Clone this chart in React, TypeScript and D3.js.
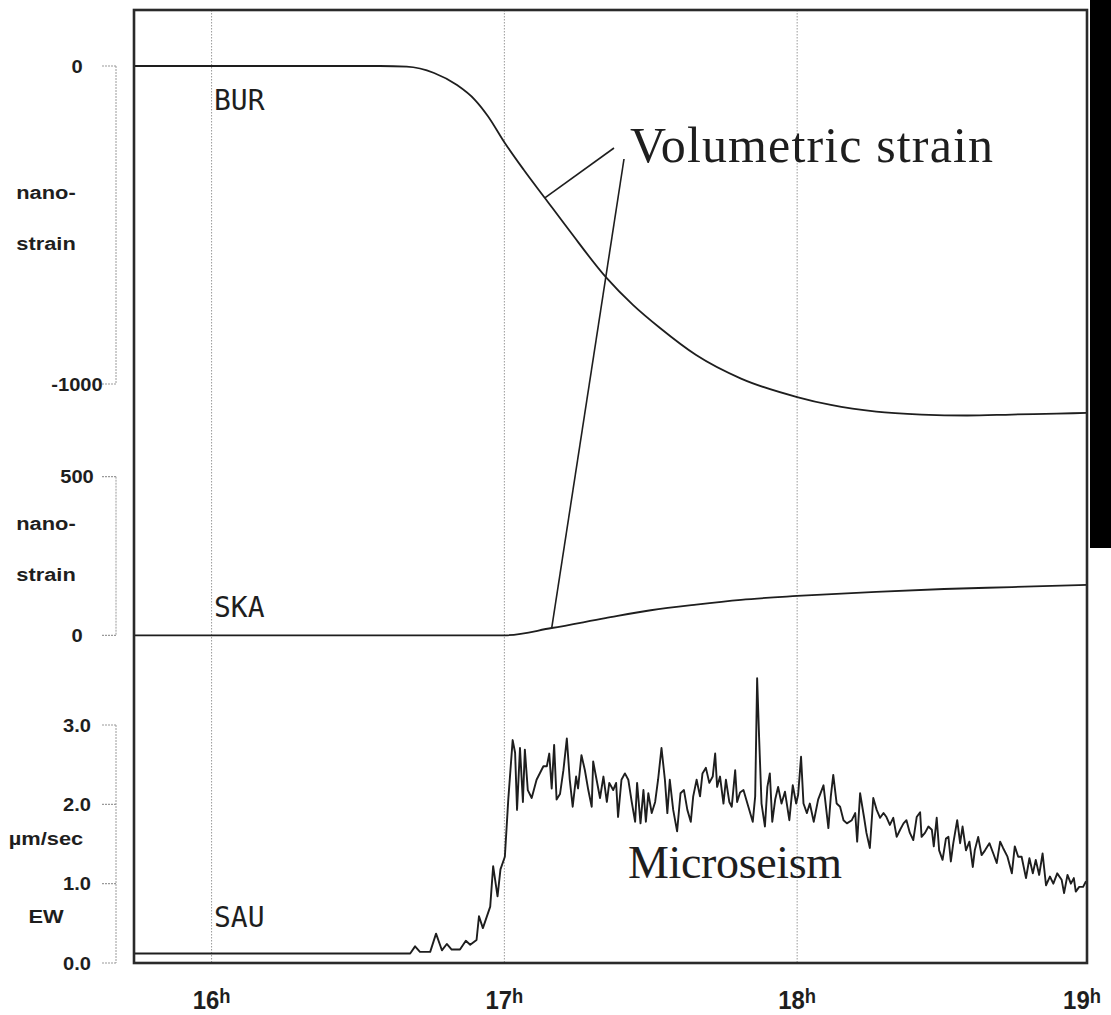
import React from 'react';
import * as d3 from 'd3';

// time in minutes after 16:00
const hourTicks = [0, 60, 120, 180];
const hourLabels = ['16', '17', '18', '19'];

const burTime = [-15.9, 34.5, 40.0, 45.6, 50.3, 54.0, 56.6, 60.1, 64.0, 68.3, 73.4, 80.8, 86.4, 91.9, 99.3, 108.5, 120.0, 126.9, 136.2, 145.5, 154.8, 164.0, 173.2, 179.4];
const burStrain = [0, 0, -2, -22, -60, -107, -157, -242, -327, -415, -519, -664, -752, -824, -909, -983, -1041, -1066, -1087, -1096, -1099, -1096, -1093, -1091];

const skaTime = [-15.9, 60.1, 69.7, 80.7, 90.0, 99.3, 108.5, 120.0, 136.2, 150.1, 164.0, 179.4];
const skaStrain = [0, 0, 23, 54, 79, 97, 112, 124, 137, 146, 152, 159];

const sauSeries: [number, number][] = [
  [-15.8, 0.12], [0, 0.12], [20, 0.12], [40.7, 0.12], [41.7, 0.21], [42.7, 0.14], [44.8, 0.14], [46.0, 0.37], [47.2, 0.16], [48.2, 0.24],
  [49.2, 0.17], [50.9, 0.17], [52.1, 0.28], [53.0, 0.23], [54.3, 0.29], [54.8, 0.59], [55.6, 0.44], [57.1, 0.71], [57.7, 1.22], [58.6, 0.84],
  [59.2, 1.18], [60.1, 1.34], [60.8, 2.06], [61.7, 2.81], [62.2, 2.65], [62.6, 1.93], [63.2, 2.71], [63.8, 2.03], [64.2, 2.69], [64.8, 2.18],
  [65.6, 2.08], [66.6, 2.31], [68.0, 2.48], [68.7, 2.48], [69.2, 2.64], [69.7, 2.2], [70.2, 2.75], [70.7, 2.06], [71.4, 2.13], [72.1, 2.43],
  [72.8, 2.83], [73.4, 2.31], [74.0, 1.97], [74.7, 2.35], [75.1, 2.2], [75.8, 2.62], [76.5, 2.43], [77.2, 2.18], [77.9, 1.97], [78.2, 2.54],
  [78.9, 2.31], [79.6, 2.08], [80.3, 2.35], [81.0, 2.03], [81.5, 2.27], [82.3, 2.18], [82.9, 2.27], [83.3, 1.84], [84.0, 2.31], [84.7, 2.39],
  [85.4, 2.31], [86.1, 2.03], [86.8, 1.78], [87.2, 2.27], [87.9, 1.76], [88.5, 2.18], [89.0, 1.78], [89.5, 2.14], [90.2, 1.89], [90.9, 2.03],
  [91.5, 2.31], [92.2, 2.71], [92.9, 2.31], [93.4, 1.89], [93.9, 2.31], [94.6, 1.93], [95.4, 1.66], [96.1, 2.14], [96.8, 2.18], [97.5, 1.93],
  [98.2, 1.78], [98.7, 2.1], [99.4, 2.31], [100.1, 2.1], [100.6, 2.39], [101.3, 2.46], [102.0, 2.27], [102.7, 2.35], [103.2, 2.64], [103.6, 2.22],
  [104.2, 2.35], [104.9, 2.01], [105.4, 2.31], [106.1, 2.03], [106.6, 1.97], [107.3, 2.43], [107.7, 2.03], [108.3, 2.15], [109.0, 2.18], [110.0, 1.97],
  [110.9, 1.78], [111.4, 2.1], [111.8, 3.59], [112.2, 2.85], [112.7, 2.01], [113.4, 1.72], [113.9, 2.22], [114.4, 2.39], [114.9, 1.78], [115.5, 2.06],
  [116.1, 2.22], [116.8, 2.01], [117.5, 2.16], [118.4, 1.8], [119.1, 2.24], [119.8, 2.01], [120.2, 2.12], [120.8, 2.6], [121.3, 2.01], [122.0, 1.89],
  [122.6, 2.01], [123.4, 1.78], [124.3, 2.06], [125.4, 2.24], [125.9, 1.97], [126.4, 1.7], [126.9, 2.1], [127.4, 2.37], [128.1, 2.01], [128.8, 1.97],
  [129.5, 1.8], [130.2, 1.76], [131.2, 1.8], [131.9, 1.89], [132.3, 1.53], [132.9, 2.14], [133.7, 1.84], [134.2, 1.64], [134.9, 1.45], [135.6, 2.08],
  [136.3, 1.93], [137.0, 1.83], [137.7, 1.89], [138.3, 1.84], [139.0, 1.74], [139.7, 1.83], [140.4, 1.59], [141.1, 1.68], [141.8, 1.76], [142.4, 1.8],
  [143.1, 1.64], [143.8, 1.55], [144.5, 1.84], [145.2, 1.9], [145.5, 1.59], [146.2, 1.64], [146.9, 1.72], [147.6, 1.68], [148.0, 1.47], [148.6, 1.83],
  [149.1, 1.42], [149.8, 1.3], [150.5, 1.57], [151.0, 1.59], [151.5, 1.28], [152.0, 1.51], [152.8, 1.8], [153.4, 1.51], [153.9, 1.72], [154.6, 1.42],
  [155.3, 1.53], [156.0, 1.21], [156.4, 1.42], [157.1, 1.59], [157.8, 1.36], [158.5, 1.42], [159.4, 1.51], [160.2, 1.38], [160.9, 1.26], [161.6, 1.53],
  [162.2, 1.45], [163.1, 1.34], [164.0, 1.13], [164.6, 1.47], [165.3, 1.34], [166.0, 1.34], [166.9, 1.07], [167.6, 1.32], [168.3, 1.13], [168.9, 1.3],
  [169.6, 1.11], [170.3, 1.38], [171.0, 0.98], [171.8, 1.09], [172.5, 1.0], [173.3, 1.13], [174.2, 1.05], [174.7, 0.88], [175.4, 1.11], [176.1, 1.0],
  [176.7, 1.07], [177.1, 0.9], [177.8, 0.96], [178.6, 0.96], [179.2, 1.03],
];

const burTicks = [0, -1000];
const skaTicks = [500, 0];
const sauTicks = [3, 2, 1, 0];

const stationNames = ['BUR', 'SKA', 'SAU'];

const W = 1111;
const H = 1015;
const L = 134, R = 1087, T = 10, B = 963;

const sx = d3.scaleLinear().domain([-15.9, 179.4]).range([L, R]);
const yBur = d3.scaleLinear().domain([-1000, 0]).range([384, 66]);
const ySka = d3.scaleLinear().domain([0, 500]).range([635.3, 476.7]);
const ySau = d3.scaleLinear().domain([0, 3]).range([963, 725]);

const INK = '#1e1e1e';
const GRID = '#9a9a9a';
const sans = 'Liberation Sans, Arial, sans-serif';

function Bracket({ scale, ticks, fmt }: { scale: d3.ScaleLinear<number, number>; ticks: number[]; fmt: (v: number) => string }) {
  const ys = ticks.map((t) => scale(t));
  const y0 = Math.min(...ys), y1 = Math.max(...ys);
  return (
    <g>
      <line x1={116} x2={116} y1={y0} y2={y1} stroke={GRID} strokeWidth={1} strokeDasharray="2,1" />
      {ticks.map((t) => (
        <g key={t}>
          <line x1={102} x2={116} y1={scale(t)} y2={scale(t)} stroke={GRID} strokeWidth={1.2} strokeDasharray="2,1" />
          <text
            transform={`translate(77,${scale(t) + 6.5}) scale(1.15,1)`}
            textAnchor="middle"
            fontFamily={sans}
            fontWeight="bold"
            fontSize={17.5}
            fill={INK}
          >
            {fmt(t)}
          </text>
        </g>
      ))}
    </g>
  );
}

function UnitLabel({ y, text }: { y: number; text: string }) {
  return (
    <text transform={`translate(46,${y}) scale(1.15,1)`} textAnchor="middle" fontFamily={sans} fontWeight="bold" fontSize={19} fill={INK}>
      {text}
    </text>
  );
}

export default function App() {
  const burLine = d3
    .line<number>()
    .x((_, i) => sx(burTime[i]))
    .y((d) => yBur(d))
    .curve(d3.curveMonotoneX)(burStrain) as string;
  const skaLine = d3
    .line<number>()
    .x((_, i) => sx(skaTime[i]))
    .y((d) => ySka(d))
    .curve(d3.curveMonotoneX)(skaStrain) as string;
  const sauLine = d3
    .line<[number, number]>()
    .x((d) => sx(d[0]))
    .y((d) => ySau(d[1]))(sauSeries) as string;

  const volLabel = { x: 630, y: 162 };
  const lead1 = { x: sx(68.3), y: yBur(-415) };
  const lead2 = { x: sx(69.7), y: ySka(23) };

  return (
    <svg width={W} height={H} style={{ position: 'absolute', left: 0, top: 0, background: '#fff' }}>
      <rect x={0} y={0} width={W} height={H} fill="#fff" />
      {/* vertical hour gridlines */}
      {hourTicks.slice(0, 3).map((t) => (
        <line key={t} x1={sx(t)} x2={sx(t)} y1={T} y2={B} stroke={GRID} strokeWidth={1} strokeDasharray="1.5,1.5" />
      ))}

      {/* curves */}
      <path d={burLine} fill="none" stroke={INK} strokeWidth={1.8} />
      <path d={skaLine} fill="none" stroke={INK} strokeWidth={1.8} />
      <path d={sauLine} fill="none" stroke={INK} strokeWidth={1.9} strokeLinejoin="round" />

      {/* frame */}
      <rect x={L} y={T} width={R - L} height={B - T} fill="none" stroke="#2a2a2a" strokeWidth={2.6} />

      {/* black bar at right edge */}
      <rect x={1090} y={0} width={W - 1090} height={548} fill="#000" />

      {/* y axis brackets */}
      <Bracket scale={yBur} ticks={burTicks} fmt={(v) => String(v)} />
      <Bracket scale={ySka} ticks={skaTicks} fmt={(v) => String(v)} />
      <Bracket scale={ySau} ticks={sauTicks} fmt={d3.format('.1f')} />

      <UnitLabel y={199} text="nano-" />
      <UnitLabel y={250} text="strain" />
      <UnitLabel y={530} text="nano-" />
      <UnitLabel y={581} text="strain" />
      <UnitLabel y={845} text="µm/sec" />
      <UnitLabel y={923} text="EW" />

      {/* station names */}
      {stationNames.map((n, i) => (
        <text key={n} x={214} y={[110, 617, 927][i]} fontFamily="DejaVu Sans Mono, monospace" fontSize={28} fill={INK}>
          {n}
        </text>
      ))}

      {/* annotation */}
      <text x={volLabel.x} y={volLabel.y} fontFamily="Liberation Serif, Times New Roman, serif" fontSize={50} textLength={363} lengthAdjust="spacing" fill={INK}>
        Volumetric strain
      </text>
      <line x1={lead1.x} y1={lead1.y} x2={volLabel.x - 16} y2={volLabel.y - 14} stroke={INK} strokeWidth={1.6} />
      <line x1={lead2.x} y1={lead2.y} x2={volLabel.x - 6} y2={volLabel.y - 3} stroke={INK} strokeWidth={1.6} />

      <text x={628} y={878} fontFamily="Liberation Serif, Times New Roman, serif" fontSize={46} textLength={214} lengthAdjust="spacing" fill={INK}>
        Microseism
      </text>

      {/* x axis hour labels */}
      {hourTicks.map((t, i) => {
        const cx = Math.min(sx(t), W - 3 - 26);
        return (
          <text key={t} transform={`translate(${cx},1008.5) scale(0.92,1)`} textAnchor="middle" fontFamily={sans} fontWeight="bold" fontSize={26} fill={INK}>
            {hourLabels[i]}
            <tspan fontSize={20} dy={-6}>h</tspan>
          </text>
        );
      })}
    </svg>
  );
}
